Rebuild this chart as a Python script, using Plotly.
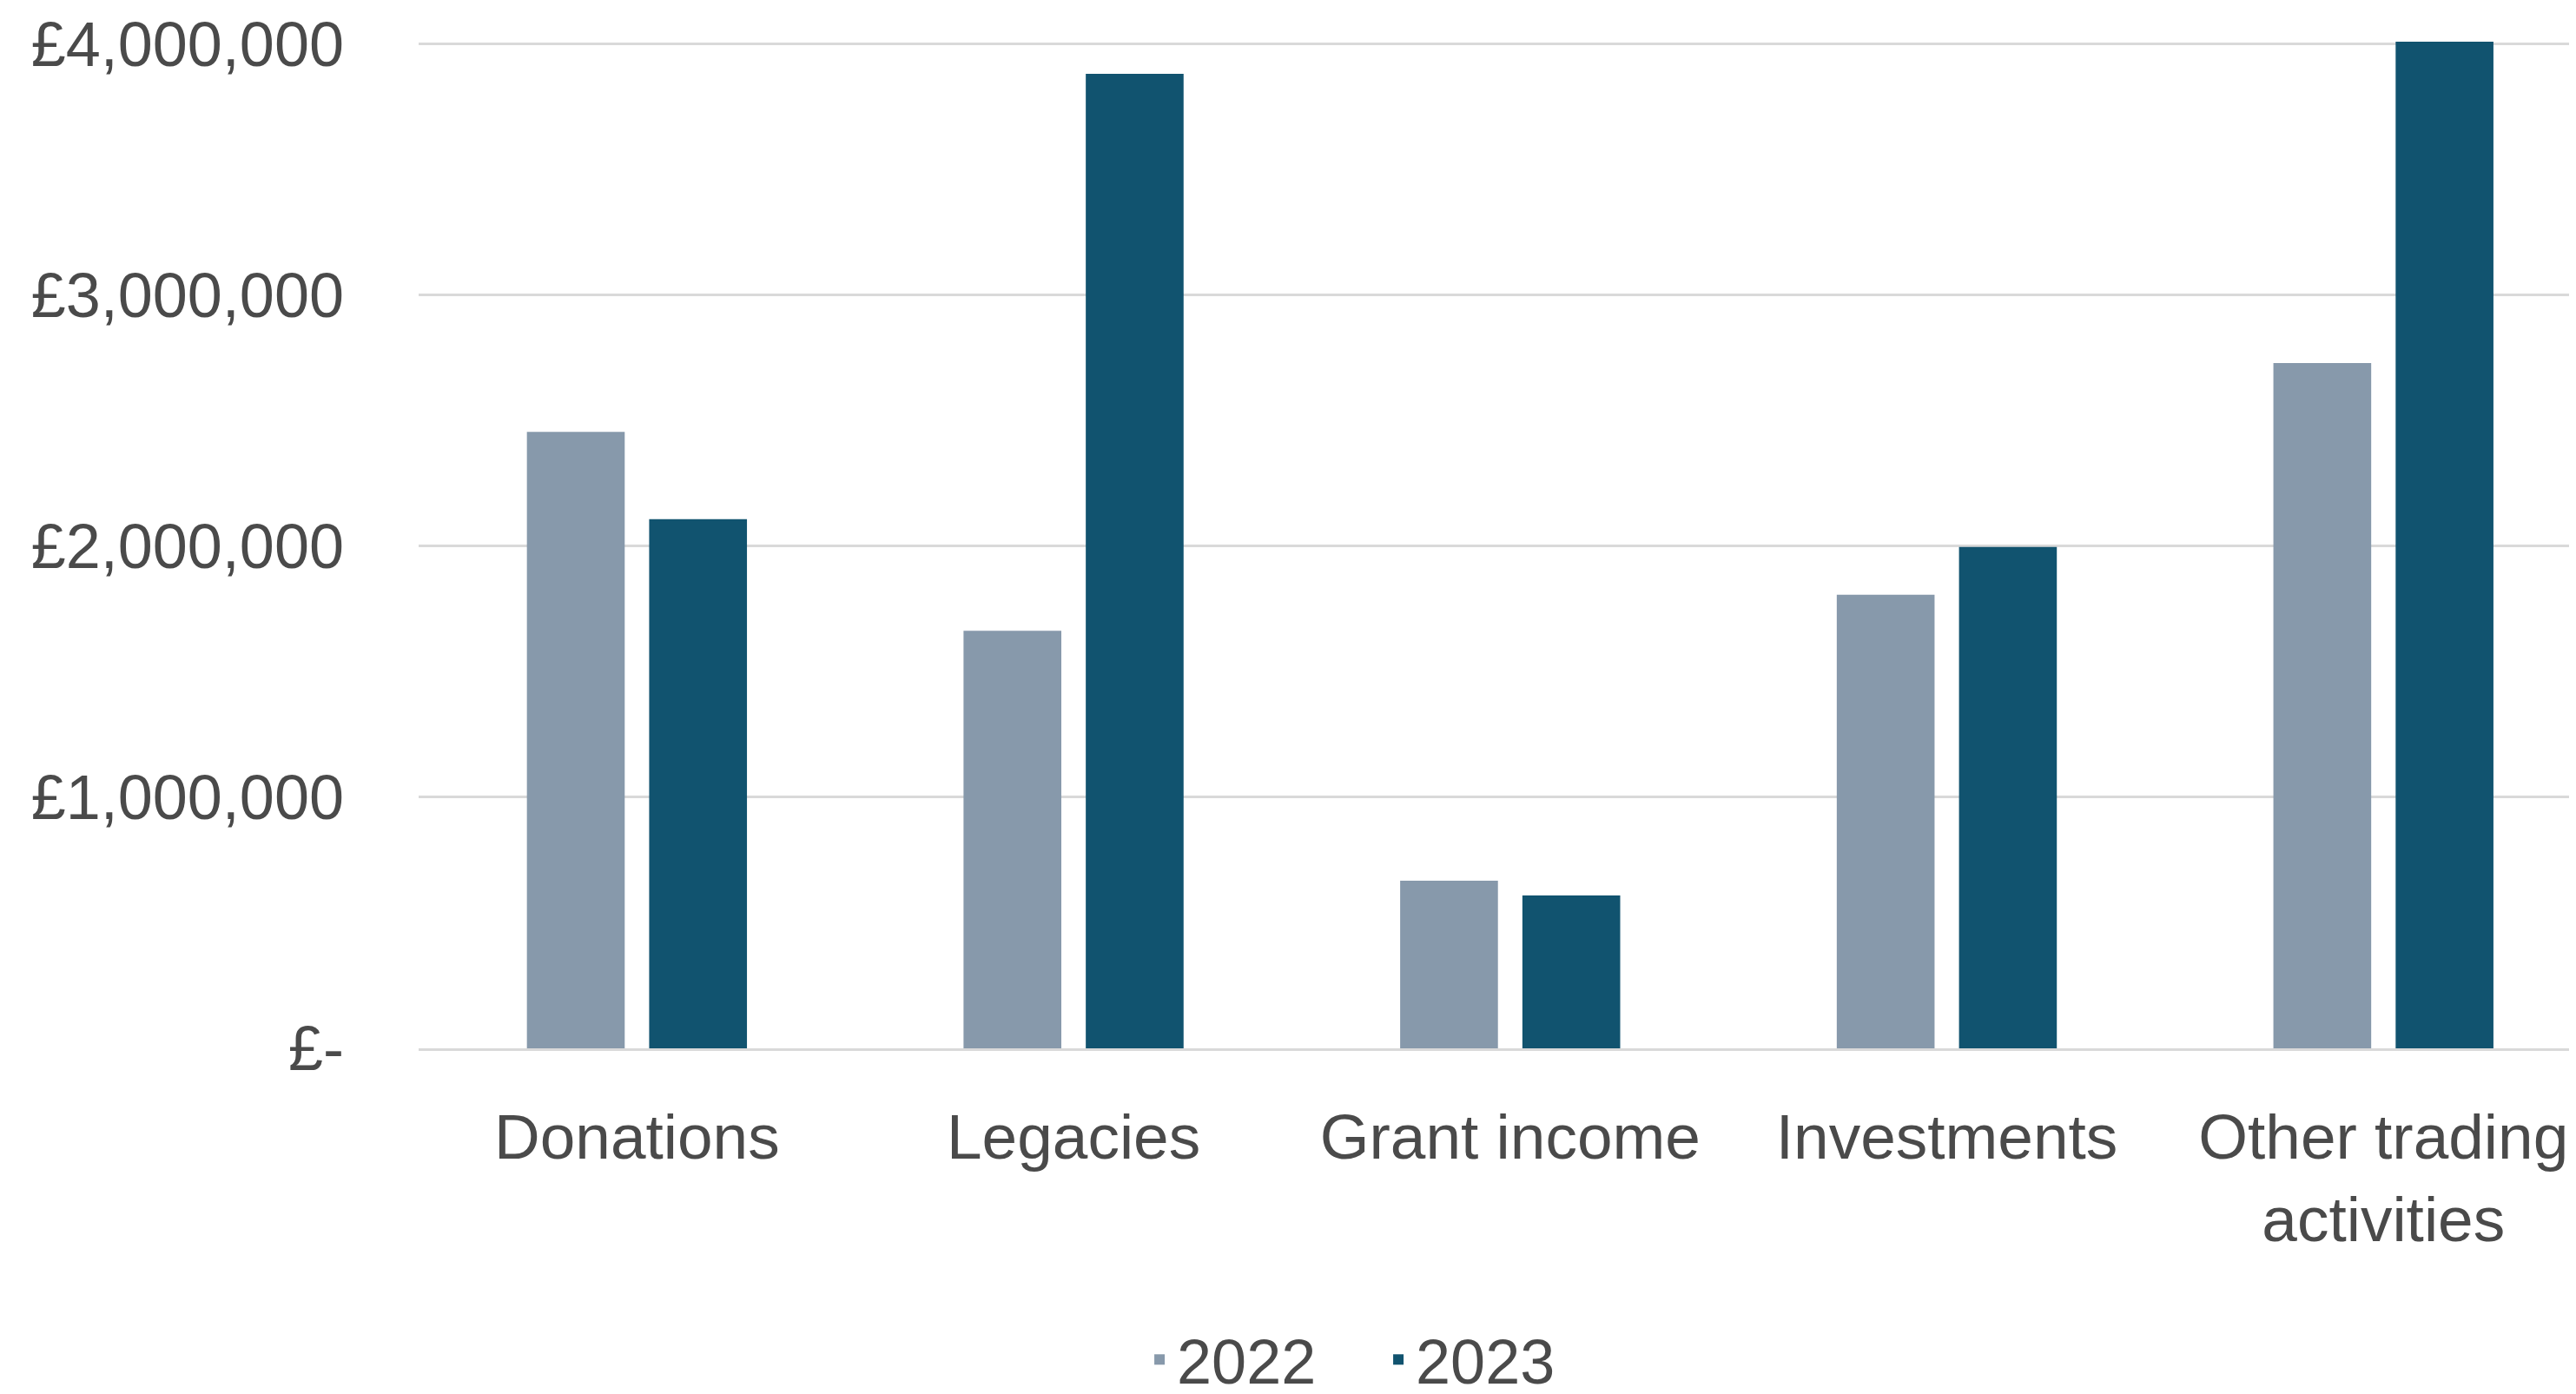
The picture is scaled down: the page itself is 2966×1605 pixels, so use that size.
import plotly.graph_objects as go

categories = ["Donations", "Legacies", "Grant income", "Investments", "Other trading<br>activities"]
values_2022 = [2455000, 1663000, 668000, 1807000, 2730000]
values_2023 = [2108000, 3882000, 609000, 1997000, 4010000]
tick_vals = [0, 1000000, 2000000, 3000000, 4000000]
tick_text = ["£-", "£1,000,000", "£2,000,000", "£3,000,000", "£4,000,000"]

FONT = "Liberation Sans"
TEXT = "#4a4a4a"

fig = go.Figure()
fig.add_trace(go.Bar(name="2022", x=categories, y=values_2022,
                     marker=dict(color="#8799AB", line=dict(width=0))))
fig.add_trace(go.Bar(name="2023", x=categories, y=values_2023,
                     marker=dict(color="#11536F", line=dict(width=0))))

fig.update_layout(
    width=2966, height=1660,
    paper_bgcolor="white", plot_bgcolor="white",
    barmode="group", bargap=0.44, bargroupgap=0.2,
    margin=dict(l=474, r=0, t=37, b=461, pad=0),
    font=dict(family=FONT, size=72, color=TEXT),
    showlegend=True,
    legend=dict(orientation="h", x=0.3343, xanchor="left", y=-0.3085, yanchor="middle",
                entrywidth=230, entrywidthmode="pixels",
                font=dict(family=FONT, size=72, color=TEXT), bgcolor="rgba(0,0,0,0)"),
)
fig.update_xaxes(range=[-0.5, 4.457], showgrid=False, showline=True, linecolor="#D9D9D9",
                 linewidth=3, ticks="", ticklabelstandoff=36,
                 tickfont=dict(family=FONT, size=73, color=TEXT))
fig.update_yaxes(range=[0, 4020000], tickvals=tick_vals, ticktext=tick_text,
                 showgrid=True, gridcolor="#D9D9D9", gridwidth=3, zeroline=False,
                 showline=False, ticks="", ticklabelstandoff=85,
                 tickfont=dict(family=FONT, size=72, color=TEXT))

fig.write_html("out.html")
